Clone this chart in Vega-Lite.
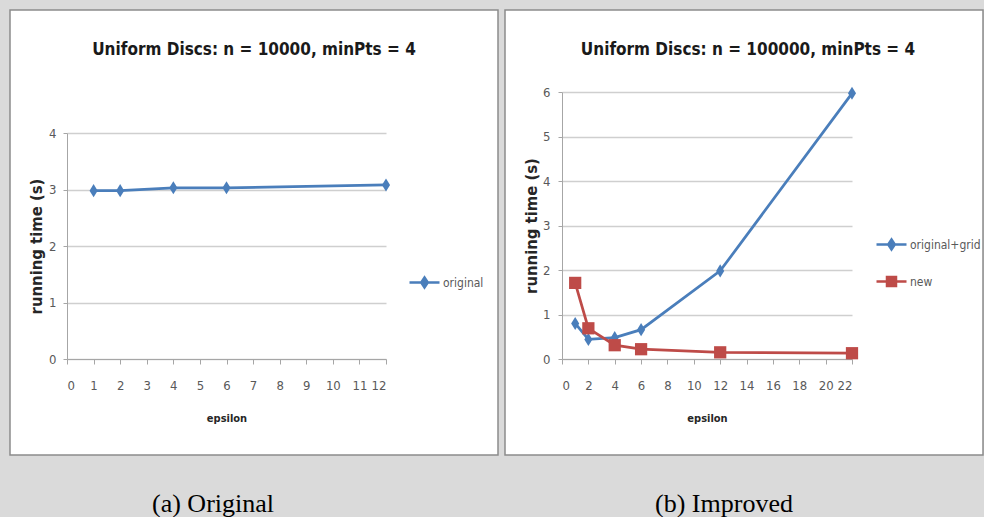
{
  "$schema": "https://vega.github.io/schema/vega-lite/v6.json",
  "background": "#dadada",
  "padding": {"left": 9, "top": 9, "right": 0, "bottom": 0},
  "config": {
    "view": {"stroke": null},
    "font": "DejaVu Sans Condensed, sans-serif",
    "axis": {
      "labelFont": "DejaVu Sans Condensed, sans-serif",
      "labelFontSize": 13,
      "labelColor": "#595959",
      "domainColor": "#a6a6a6",
      "domainWidth": 1,
      "tickColor": "#a6a6a6",
      "tickSize": 5,
      "gridColor": "#cfcfcf",
      "gridWidth": 1.6,
      "titleFont": "DejaVu Sans Condensed, sans-serif",
      "titleFontWeight": "bold",
      "titleColor": "#262626"
    },
    "legend": {
      "labelFont": "DejaVu Sans Condensed, sans-serif",
      "labelFontSize": 12,
      "labelColor": "#595959",
      "labelOffset": 2,
      "symbolSize": 900,
      "symbolStrokeWidth": 2.5,
      "symbolOpacity": 1
    }
  },
  "datasets": {
    "orig": [
      {"epsilon": 1, "time": 2.98, "series": "original"},
      {"epsilon": 2, "time": 2.98, "series": "original"},
      {"epsilon": 4, "time": 3.03, "series": "original"},
      {"epsilon": 6, "time": 3.03, "series": "original"},
      {"epsilon": 12, "time": 3.08, "series": "original"}
    ],
    "improved": [
      {"epsilon": 1, "time": 0.8, "series": "original+grid"},
      {"epsilon": 2, "time": 0.44, "series": "original+grid"},
      {"epsilon": 4, "time": 0.48, "series": "original+grid"},
      {"epsilon": 6, "time": 0.66, "series": "original+grid"},
      {"epsilon": 12, "time": 1.98, "series": "original+grid"},
      {"epsilon": 22, "time": 5.97, "series": "original+grid"},
      {"epsilon": 1, "time": 1.71, "series": "new"},
      {"epsilon": 2, "time": 0.69, "series": "new"},
      {"epsilon": 4, "time": 0.31, "series": "new"},
      {"epsilon": 6, "time": 0.22, "series": "new"},
      {"epsilon": 12, "time": 0.15, "series": "new"},
      {"epsilon": 22, "time": 0.13, "series": "new"}
    ]
  },
  "spacing": 35,
  "vconcat": [
    {
      "spacing": 5,
      "resolve": {
        "scale": {"color": "independent", "fill": "independent"},
        "legend": {"color": "independent", "fill": "independent"}
      },
      "hconcat": [
        {
          "width": 488,
          "height": 445,
          "view": {"fill": "white", "stroke": "#8c8c8c", "strokeWidth": 1.5},
          "title": {
            "text": "Uniform Discs: n = 10000, minPts = 4",
            "offset": -62,
            "baseline": "alphabetic",
            "anchor": "middle",
            "font": "DejaVu Sans Condensed, sans-serif",
            "fontSize": 17,
            "fontWeight": "bold",
            "color": "#1a1a1a"
          },
          "data": {"name": "orig"},
          "encoding": {
            "x": {
              "field": "epsilon",
              "type": "quantitative",
              "scale": {"domain": [0, 12], "range": [57, 376], "nice": false, "zero": false},
              "axis": {
                "values": [0, 1, 2, 3, 4, 5, 6, 7, 8, 9, 10, 11, 12],
                "offset": -96,
                "grid": false,
                "title": "epsilon",
                "titleFontSize": 11,
                "labelPadding": 15,
                "titlePadding": 20
              }
            },
            "y": {
              "field": "time",
              "type": "quantitative",
              "scale": {"domain": [0, 4], "range": [349, 123], "nice": false, "zero": false},
              "axis": {
                "values": [0, 1, 2, 3, 4],
                "offset": -57,
                "grid": true,
                "tickSize": 4,
                "title": "running time (s)",
                "titleFontSize": 16.5,
                "labelPadding": 7,
                "titlePadding": 4
              }
            }
          },
          "layer": [
            {
              "mark": {"type": "line", "strokeWidth": 2.75},
              "encoding": {
                "color": {
                  "field": "series",
                  "type": "nominal",
                  "scale": {"domain": ["original"], "range": ["#4a7ebb"]},
                  "legend": {
                    "title": null,
                    "orient": "none",
                    "legendX": 398,
                    "legendY": 256,
                    "symbolType": "M-1,0L1,0M0,-0.33L0.22,0L0,0.33L-0.22,0Z",
                    "symbolFillColor": "#4a7ebb"
                  }
                }
              }
            },
            {
              "mark": {"type": "point", "filled": true, "opacity": 1, "size": 170, "color": "#4a7ebb", "shape": "M0,-1L0.62,0L0,1L-0.62,0Z"}
            }
          ]
        },
        {
          "width": 478,
          "height": 445,
          "view": {"fill": "white", "stroke": "#8c8c8c", "strokeWidth": 1.5},
          "title": {
            "text": "Uniform Discs: n = 100000, minPts = 4",
            "offset": -62,
            "baseline": "alphabetic",
            "anchor": "middle",
            "dx": 4,
            "font": "DejaVu Sans Condensed, sans-serif",
            "fontSize": 17,
            "fontWeight": "bold",
            "color": "#1a1a1a"
          },
          "data": {"name": "improved"},
          "encoding": {
            "x": {
              "field": "epsilon",
              "type": "quantitative",
              "scale": {"domain": [0, 22], "range": [57, 347], "nice": false, "zero": false},
              "axis": {
                "values": [0, 2, 4, 6, 8, 10, 12, 14, 16, 18, 20, 22],
                "offset": -96,
                "grid": false,
                "title": "epsilon",
                "titleFontSize": 11,
                "labelPadding": 15,
                "titlePadding": 20
              }
            },
            "y": {
              "field": "time",
              "type": "quantitative",
              "scale": {"domain": [0, 6], "range": [349, 82], "nice": false, "zero": false},
              "axis": {
                "values": [0, 1, 2, 3, 4, 5, 6],
                "offset": -57,
                "grid": true,
                "tickSize": 4,
                "title": "running time (s)",
                "titleFontSize": 16.5,
                "labelPadding": 8,
                "titlePadding": 3
              }
            }
          },
          "layer": [
            {
              "mark": {"type": "line", "strokeWidth": 2.75},
              "encoding": {
                "color": {
                  "field": "series",
                  "type": "nominal",
                  "scale": {"domain": ["original+grid", "new"], "range": ["#4a7ebb", "#be4b48"]},
                  "legend": {
                    "title": null,
                    "values": ["original+grid"],
                    "orient": "none",
                    "legendX": 370,
                    "legendY": 218,
                    "symbolType": "M-1,0L1,0M0,-0.33L0.22,0L0,0.33L-0.22,0Z",
                    "symbolFillColor": "#4a7ebb"
                  }
                }
              }
            },
            {
              "transform": [{"filter": "datum.series === 'original+grid'"}],
              "mark": {"type": "point", "filled": true, "opacity": 1, "size": 170, "color": "#4a7ebb", "shape": "M0,-1L0.62,0L0,1L-0.62,0Z"}
            },
            {
              "transform": [{"filter": "datum.series === 'new'"}],
              "mark": {"type": "point", "filled": true, "opacity": 1, "size": 150, "shape": "square"},
              "encoding": {
                "fill": {
                  "field": "series",
                  "type": "nominal",
                  "scale": {"domain": ["new"], "range": ["#be4b48"]},
                  "legend": {
                    "title": null,
                    "orient": "none",
                    "legendX": 370,
                    "legendY": 255,
                    "symbolType": "M-1,0L1,0M-0.3,-0.3L0.3,-0.3L0.3,0.3L-0.3,0.3Z",
                    "symbolStrokeColor": "#be4b48"
                  }
                }
              }
            }
          ]
        }
      ]
    },
    {
      "spacing": 5,
      "hconcat": [
        {
          "width": 488,
          "height": 26,
          "data": {"values": [{"caption": "(a) Original"}]},
          "mark": {"type": "text", "font": "Liberation Serif", "fontSize": 26, "color": "#000000", "dx": -41, "baseline": "middle"},
          "encoding": {"text": {"field": "caption"}}
        },
        {
          "width": 478,
          "height": 26,
          "data": {"values": [{"caption": "(b) Improved"}]},
          "mark": {"type": "text", "font": "Liberation Serif", "fontSize": 26, "color": "#000000", "dx": -18, "baseline": "middle"},
          "encoding": {"text": {"field": "caption"}}
        }
      ]
    }
  ]
}
